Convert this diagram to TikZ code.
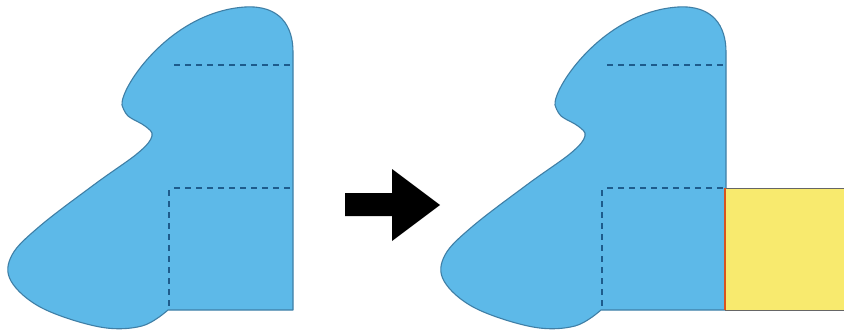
\documentclass[tikz,border=0pt]{standalone}
\begin{document}
\begin{tikzpicture}[x=1pt,y=-1pt,
  blob/.style={fill=blobfill,draw=blobedge,line width=1.1pt,line join=round},
  hidden/.style={draw=dashcol,line width=2.1pt,dash pattern=on 6pt off 5pt},
]
\definecolor{blobfill}{HTML}{5DB9E8}
\definecolor{blobedge}{HTML}{3F7FA6}
\definecolor{dashcol}{HTML}{1E5C8C}
\definecolor{yel}{HTML}{F8EA6E}
\definecolor{redl}{HTML}{D9531E}
\useasboundingbox (0,0) rectangle (844,332);
\fill[white] (0,0) rectangle (844,332);
\foreach \dx in {0,433}{
\begin{scope}[xshift=\dx pt]
  \draw[blob] (293,52) -- (293,310) -- (168,310) -- plot[smooth,tension=0.6] coordinates {(168,310) (142,326) (100,327) (42,308) (11,281) (12,255) (40,226) (95,184) (138,153) (152,136) (145,126) (128,116) (122,105)}
    .. controls (120,88) and (170,12) .. (245,7)
    .. controls (280,5) and (293,26) .. (293,52) -- cycle;
  \draw[hidden] (174,65) -- (293,65);
  \draw[hidden] (174,188) -- (293,188);
  \draw[hidden] (169,190) -- (169,310);
\end{scope}}
\fill[yel] (725,188) rectangle (846,310);
\draw[line width=1pt,draw=black!60] (725,188) -- (846,188);
\draw[line width=1pt,draw=black!60] (725,310) -- (846,310);
\draw[line width=2.2pt,draw=redl] (725,188) -- (725,310);
\fill[black] (345,193) -- (392,193) -- (392,169) -- (440,205) -- (392,241) -- (392,216) -- (345,216) -- cycle;
\end{tikzpicture}
\end{document}
